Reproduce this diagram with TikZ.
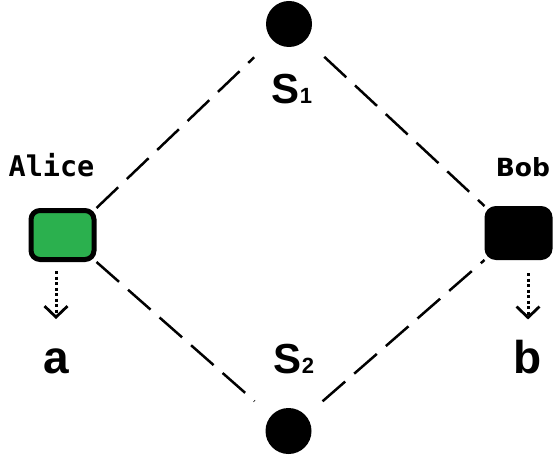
\documentclass[tikz,border=0pt]{standalone}
\usepackage{fontspec}
\usetikzlibrary{arrows.meta}

\newfontfamily\lblfont{Liberation Sans}
\newfontfamily\alicefont{DejaVu Sans Mono}
\newfontfamily\bobfont{DejaVu Sans}
\definecolor{alicegreen}{RGB}{43,176,78}

\tikzset{
party/.style={
  rectangle,
  rounded corners=9pt,
  draw,
  line width=5pt,
  minimum width=63pt,
  minimum height=49pt,
  inner sep=0pt,
},
alicebox/.style={party, fill=alicegreen},
bobbox/.style={party, fill=black},
source/.style={circle, fill=black, minimum size=46pt, inner sep=0pt},
link/.style={line width=2.5pt, dash pattern=on 30pt off 12pt},
measure/.style={line width=3pt, dash pattern=on 3pt off 2.5pt, -{Straight Barb[length=11pt,width=23pt,line width=2.8pt]}},
tag/.style={anchor=base, inner sep=0pt},
srclabel/.style={tag, font=\lblfont\bfseries\fontsize{42}{44}\selectfont},
outcome/.style={tag, font=\lblfont\bfseries\fontsize{46}{48}\selectfont},
}

\begin{document}
\begin{tikzpicture}[x=1pt,y=-1pt]
\useasboundingbox (0,0) rectangle (553,462);
% sources
\node[source] (s1) at (289,24) {};
\node[source] (s2) at (288.5,431) {};
\node[srclabel] (s1-lbl) at (292,104) {S{\fontsize{22}{24}\selectfont 1}};
\node[srclabel] (s2-lbl) at (294,373) {S{\fontsize{22}{24}\selectfont 2}};
% parties
\node[alicebox] (alice) at (62.5,235) {};
\node[bobbox] (bob) at (518.5,233) {};
\node[tag] (alice-lbl) at (51.5,177) {\alicefont\bfseries\fontsize{28.5}{30}\selectfont Alice};
\node[tag] (bob-lbl) at (523,177) {\bobfont\bfseries\fontsize{25}{27}\selectfont Bob};
% outcomes
\node[outcome] (out-a) at (56,373) {a};
\node[outcome] (out-b) at (528,373) {b};
% links
\draw[link, shorten >=25pt] (alice.north east) -- (s1);
\draw[link, shorten <=25pt] (s1) -- (bob.north west);
\draw[link, shorten >=22pt] (alice.south east) -- (s2);
\draw[link, shorten <=22pt] (s2) -- (bob.south west);
% measurements
\draw[measure, shorten <=9pt, shorten >=29pt] (out-a |- alice.south) -- (out-a.north);
\draw[measure, shorten <=13pt, shorten >=20pt] (out-b |- bob.south) -- (out-b.north);
\end{tikzpicture}
\end{document}
